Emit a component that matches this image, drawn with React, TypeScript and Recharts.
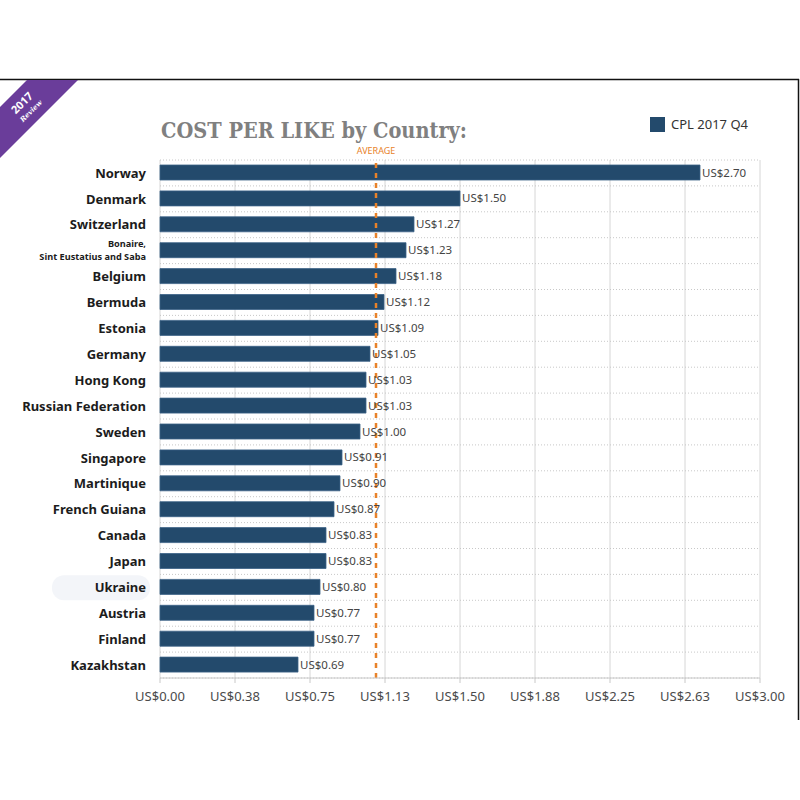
import React from 'react';
import { BarChart, Bar, XAxis, YAxis, CartesianGrid, ReferenceLine, LabelList } from 'recharts';

const countries = [
  'Norway', 'Denmark', 'Switzerland', 'Bonaire, Sint Eustatius and Saba', 'Belgium', 'Bermuda',
  'Estonia', 'Germany', 'Hong Kong', 'Russian Federation', 'Sweden', 'Singapore', 'Martinique',
  'French Guiana', 'Canada', 'Japan', 'Ukraine', 'Austria', 'Finland', 'Kazakhstan',
];
const cplValues = [2.7, 1.5, 1.27, 1.23, 1.18, 1.12, 1.09, 1.05, 1.03, 1.03, 1.0, 0.91, 0.9, 0.87, 0.83, 0.83, 0.8, 0.77, 0.77, 0.69];
const xTicks = [0, 0.375, 0.75, 1.125, 1.5, 1.875, 2.25, 2.625, 3];
const averageCpl = 1.08;
const seriesName = 'CPL 2017 Q4';
const titleText = 'COST PER LIKE by Country:';

const data = countries.map((country, i) => ({ country, cpl: cplValues[i] }));

const BAR_COLOR = '#234a6c';
const ORANGE = '#e8822a';
const usd = (v: number) => `US$${Number(v).toFixed(2)}`;

const CountryTick = (props: any) => {
  const { x, y, payload } = props;
  const v: string = payload.value;
  const common = { fontFamily: 'Noto Sans', fontWeight: 700, fill: '#1c1c1c', textAnchor: 'end' as const };
  if (v.startsWith('Bonaire')) {
    const [a, b] = v.split(', ');
    return (
      <g>
        <text x={x} y={y - 4} fontSize={9.2} {...common}>{a + ','}</text>
        <text x={x} y={y + 9} fontSize={9.2} {...common}>{b}</text>
      </g>
    );
  }
  return (
    <g>
      {v === 'Ukraine' && <rect x={52} y={y - 12} width={98} height={25} rx={12} fill="#f3f5f9" />}
      <text x={x} y={y} dy="0.36em" fontSize={13} {...common}>{v}</text>
    </g>
  );
};

export default function App() {
  return (
    <div style={{ position: 'absolute', left: 0, top: 0, width: 800, height: 800, background: '#fff' }}>
      <BarChart
        width={800}
        height={800}
        data={data}
        layout="vertical"
        margin={{ top: 160, right: 40, bottom: 92, left: 0 }}
        barSize={15}
      >
        <CartesianGrid horizontal={false} vertical stroke="#d6d6d6" />
        <CartesianGrid
          vertical={false}
          horizontal
          stroke="#c8c8c8"
          strokeDasharray="1 2"
          horizontalCoordinatesGenerator={({ offset }: any) =>
            Array.from({ length: data.length + 1 }, (_, i) => offset.top + (i * offset.height) / data.length)
          }
        />
        <XAxis
          type="number"
          domain={[0, 3]}
          ticks={xTicks}
          tickFormatter={usd}
          height={30}
          tickSize={5}
          tickMargin={9}
          stroke="#c8c8c8"
          tick={{ fill: '#4a4a4a', fontSize: 13, fontFamily: 'Noto Sans' }}
          interval={0}
        />
        <YAxis
          type="category"
          dataKey="country"
          width={160}
          tickSize={0}
          tickMargin={14}
          axisLine={false}
          tickLine={false}
          interval={0}
          tick={<CountryTick />}
        />
        <Bar dataKey="cpl" name={seriesName} fill={BAR_COLOR} stroke="#3b6286" strokeWidth={0.8} isAnimationActive={false}>
          <LabelList
            dataKey="cpl"
            position="right"
            offset={2}
            formatter={(v: any) => usd(v)}
            style={{ fill: '#444', fontSize: 11.5, fontFamily: 'Noto Sans' }}
          />
        </Bar>
        <ReferenceLine
          x={averageCpl}
          stroke={ORANGE}
          strokeWidth={2.5}
          strokeDasharray="5 5"
          label={{ value: 'AVERAGE', position: 'top', fill: ORANGE, fontSize: 9, fontFamily: 'Noto Sans', offset: 6 }}
        />
      </BarChart>
      <svg width={800} height={800} style={{ position: 'absolute', left: 0, top: 0, pointerEvents: 'none' }}>
        <line x1={0} y1={79.5} x2={799} y2={79.5} stroke="#111" strokeWidth={1.5} />
        <line x1={798.5} y1={79} x2={798.5} y2={720} stroke="#111" strokeWidth={1.5} />
        <polygon points="27,80 78,80 0,158 0,107" fill="#6a3d9a" />
        <text x={22} y={103} transform="rotate(-45 22 103)" textAnchor="middle" dy="0.35em" fill="#fff" fontSize={11} fontWeight={700} fontFamily="Noto Sans">2017</text>
        <text x={31} y={111} transform="rotate(-45 31 111)" textAnchor="middle" dy="0.35em" fill="#fff" fontSize={7} fontWeight={700} fontStyle="italic" fontFamily="DejaVu Serif">Review</text>
        <text x={161} y={138} fill="#808080" fontSize={23} fontWeight={700} fontFamily="DejaVu Serif" textLength={306} lengthAdjust="spacingAndGlyphs">{titleText}</text>
        <rect x={650} y={117} width={15} height={15} fill={BAR_COLOR} />
        <text x={671} y={129} fill="#333" fontSize={13} fontFamily="Noto Sans">{seriesName}</text>
      </svg>
    </div>
  );
}
